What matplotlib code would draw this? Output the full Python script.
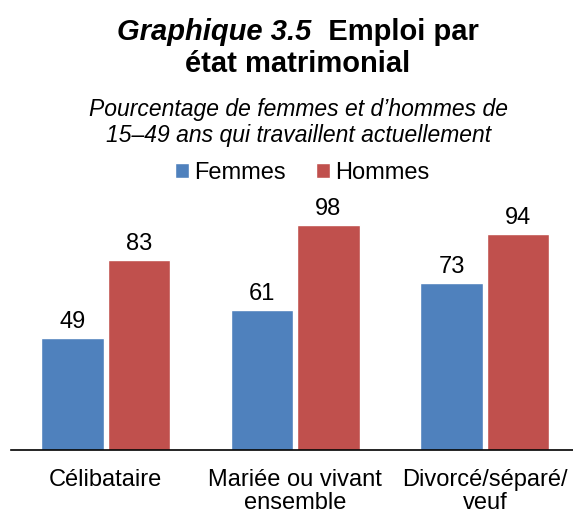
import numpy as np
import matplotlib.pyplot as plt

plt.rcParams['font.family'] = ['Liberation Sans', 'DejaVu Sans']

categories = ['Célibataire', 'Mariée ou vivant\nensemble', 'Divorcé/séparé/\nveuf']
femmes = [49, 61, 73]
hommes = [83, 98, 94]
series_names = ['Femmes', 'Hommes']

blue = '#4F81BD'
red = '#C0504D'

fig = plt.figure(figsize=(5.73, 5.15), dpi=100)
# axes: left 11px, right 573px, bottom at y=450, top at y=200
ax = fig.add_axes([11 / 573, 1 - 450 / 515, 562 / 573, 250 / 515])

x = np.arange(len(categories))
w = 0.33
b1 = ax.bar(x - w / 2 - 0.01, femmes, w, color=blue, edgecolor='white', linewidth=1.0, label=series_names[0])
b2 = ax.bar(x + w / 2 + 0.01, hommes, w, color=red, edgecolor='white', linewidth=1.0, label=series_names[1])

for bars, vals in ((b1, femmes), (b2, hommes)):
    for r, v in zip(bars, vals):
        ax.text(r.get_x() + r.get_width() / 2, v + 2.2, str(v), ha='center', va='bottom', fontsize=17)

ax.set_xlim(-0.5, 2.465)
ax.set_ylim(0, 109)
ax.set_xticks(x)
ax.set_xticklabels(categories, fontsize=17, linespacing=1.05)
ax.tick_params(axis='x', length=0, pad=14)
ax.set_yticks([])
for s in ['top', 'right', 'left']:
    ax.spines[s].set_visible(False)
ax.spines['bottom'].set_linewidth(1.2)

leg = fig.legend(handles=[b1, b2], loc='center', bbox_to_anchor=(302 / 573, 1 - 173 / 515),
                 ncol=2, frameon=False, fontsize=17, handlelength=0.6, handleheight=0.6,
                 handletextpad=0.2, columnspacing=1.3, borderaxespad=0)

# title: mixed bold italic + bold on the first line
fig.canvas.draw()
r = fig.canvas.get_renderer()
y1 = 1 - 40 / 515
t1 = fig.text(0, y1, 'Graphique 3.5', fontsize=21, fontweight='bold', fontstyle='italic', va='baseline')
t2 = fig.text(0, y1, '  Emploi par', fontsize=21, fontweight='bold', va='baseline')
w1 = t1.get_window_extent(r).width
w2 = t2.get_window_extent(r).width
start = (573 * 0.52 - (w1 + w2) / 2) / 573
t1.set_x(start)
t2.set_x(start + w1 / 573)
fig.text(0.52, 1 - 72 / 515, 'état matrimonial', fontsize=21, fontweight='bold', ha='center', va='baseline')

fig.text(0.521, 1 - 116 / 515, 'Pourcentage de femmes et d\u2019hommes de', fontsize=16.5,
         fontstyle='italic', ha='center', va='baseline')
fig.text(0.521, 1 - 142 / 515, '15\u201349 ans qui travaillent actuellement', fontsize=16.5,
         fontstyle='italic', ha='center', va='baseline')

fig.savefig('out.png', dpi=100)
